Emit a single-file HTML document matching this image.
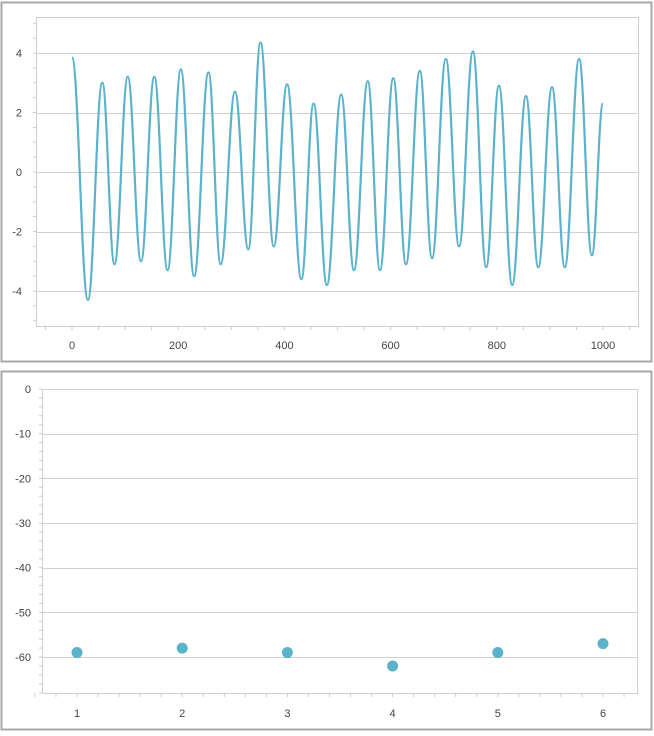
<!DOCTYPE html>
<html><head><meta charset="utf-8"><style>
body{margin:0;background:#fff;width:654px;height:731px;overflow:hidden;font-family:"Liberation Sans",sans-serif}
svg text{font-family:"Liberation Sans",sans-serif;font-size:11px;fill:#444}
</style></head><body>
<svg id="c" width="654" height="731"></svg>
<script>
const waveX=[0,30,57,80,105,130,155,180,205,230,257,280,307,332,355,380,405,432,455,480,507,531,557,580,605,629,655,678,704,729,755,780,804,829,855,878,904,928,955,979,1000];
const waveY=[3.85,-4.3,3.0,-3.1,3.2,-3.0,3.2,-3.3,3.45,-3.5,3.35,-3.1,2.7,-2.6,4.35,-2.5,2.95,-3.6,2.3,-3.8,2.6,-3.3,3.05,-3.3,3.15,-3.1,3.4,-2.9,3.8,-2.5,4.05,-3.2,2.9,-3.8,2.55,-3.2,2.85,-3.2,3.8,-2.8,2.3];
const topXTicks=[0,200,400,600,800,1000];
const topYTicks=[-4,-2,0,2,4];
const dotX=[1,2,3,4,5,6];
const dotY=[-59,-58,-59,-62,-59,-57];
const botYTicks=[0,-10,-20,-30,-40,-50,-60];

const svg=document.getElementById('c');
const NS='http://www.w3.org/2000/svg';
function mk(t,a,p){const e=document.createElementNS(NS,t);for(const k in a)e.setAttribute(k,a[k]);(p||svg).appendChild(e);return e;}

let p1=mk('rect',{x:1.5,y:2.5,width:650,height:359,fill:'#fff',stroke:'#a8a8a8','stroke-width':2});


let p2=mk('rect',{x:1.5,y:371.5,width:650,height:358,fill:'#fff',stroke:'#a8a8a8','stroke-width':2});



const tx=v=>72+v*0.531, ty=v=>172-v*29.75;
const T={l:36,r:638,t:17,b:326};
let pa=mk('rect',{x:T.l+.5,y:T.t+.5,width:T.r-T.l,height:T.b-T.t,fill:'none',stroke:'#cfcfcf'});


topYTicks.forEach(v=>{
  let g=mk('line',{x1:T.l,x2:T.r,y1:Math.round(ty(v))+.5,y2:Math.round(ty(v))+.5,stroke:'#d0d0d0'});
  
  
  let t=mk('text',{x:22,y:ty(v)+4,'text-anchor':'end'});t.textContent=v;
  
  
});
for(let v=-5;v<=5;v+=0.5){mk('line',{x1:T.l-3,x2:T.l,y1:ty(v),y2:ty(v),stroke:'#ccc'});}
topXTicks.forEach(v=>{
  let t=mk('text',{x:tx(v),y:349,'text-anchor':'middle'});t.textContent=v;
  
  
});
for(let v=-50;v<=1050;v+=50){if(tx(v)>T.l&&tx(v)<T.r)mk('line',{x1:tx(v),x2:tx(v),y1:T.b,y2:T.b+4,stroke:'#ccc'});}
let d='M'+tx(waveX[0])+','+ty(waveY[0]);
for(let i=1;i<waveX.length;i++){
  const x0=tx(waveX[i-1]),x1=tx(waveX[i]),y0=ty(waveY[i-1]),y1=ty(waveY[i]);
  const m=(x1-x0)*0.4;
  d+=` C${x0+m},${y0} ${x1-m},${y1} ${x1},${y1}`;
}
let ln=mk('path',{d:d,fill:'none',stroke:'#5ab3cb','stroke-width':2.2});



const bx=v=>77+(v-1)*105.2, by=v=>389-v*4.467;
const B={l:42,r:637,t:389,b:693};
let pb=mk('rect',{x:B.l+.5,y:B.t+.5,width:B.r-B.l,height:B.b-B.t,fill:'none',stroke:'#cfcfcf'});


botYTicks.forEach(v=>{
  let g=mk('line',{x1:B.l,x2:B.r,y1:Math.round(by(v))+.5,y2:Math.round(by(v))+.5,stroke:'#d0d0d0'});
  
  
  let t=mk('text',{x:31,y:by(v)+4,'text-anchor':'end'});t.textContent=v;
  
  
});
for(let v=0;v>=-68;v-=2){mk('line',{x1:B.l-3,x2:B.l,y1:by(v),y2:by(v),stroke:'#ccc'});}
dotX.forEach(v=>{
  let t=mk('text',{x:bx(v),y:717,'text-anchor':'middle'});t.textContent=v;
  
  
});
for(let v=0.6;v<=6.4;v+=0.2){mk('line',{x1:bx(v),x2:bx(v),y1:B.b,y2:B.b+4,stroke:'#ccc'});}
dotX.forEach((v,i)=>{
  let c=mk('circle',{cx:bx(v),cy:by(dotY[i]),r:5.5,fill:'#5ab3cb'});
  
  
});
</script>
</body></html>
